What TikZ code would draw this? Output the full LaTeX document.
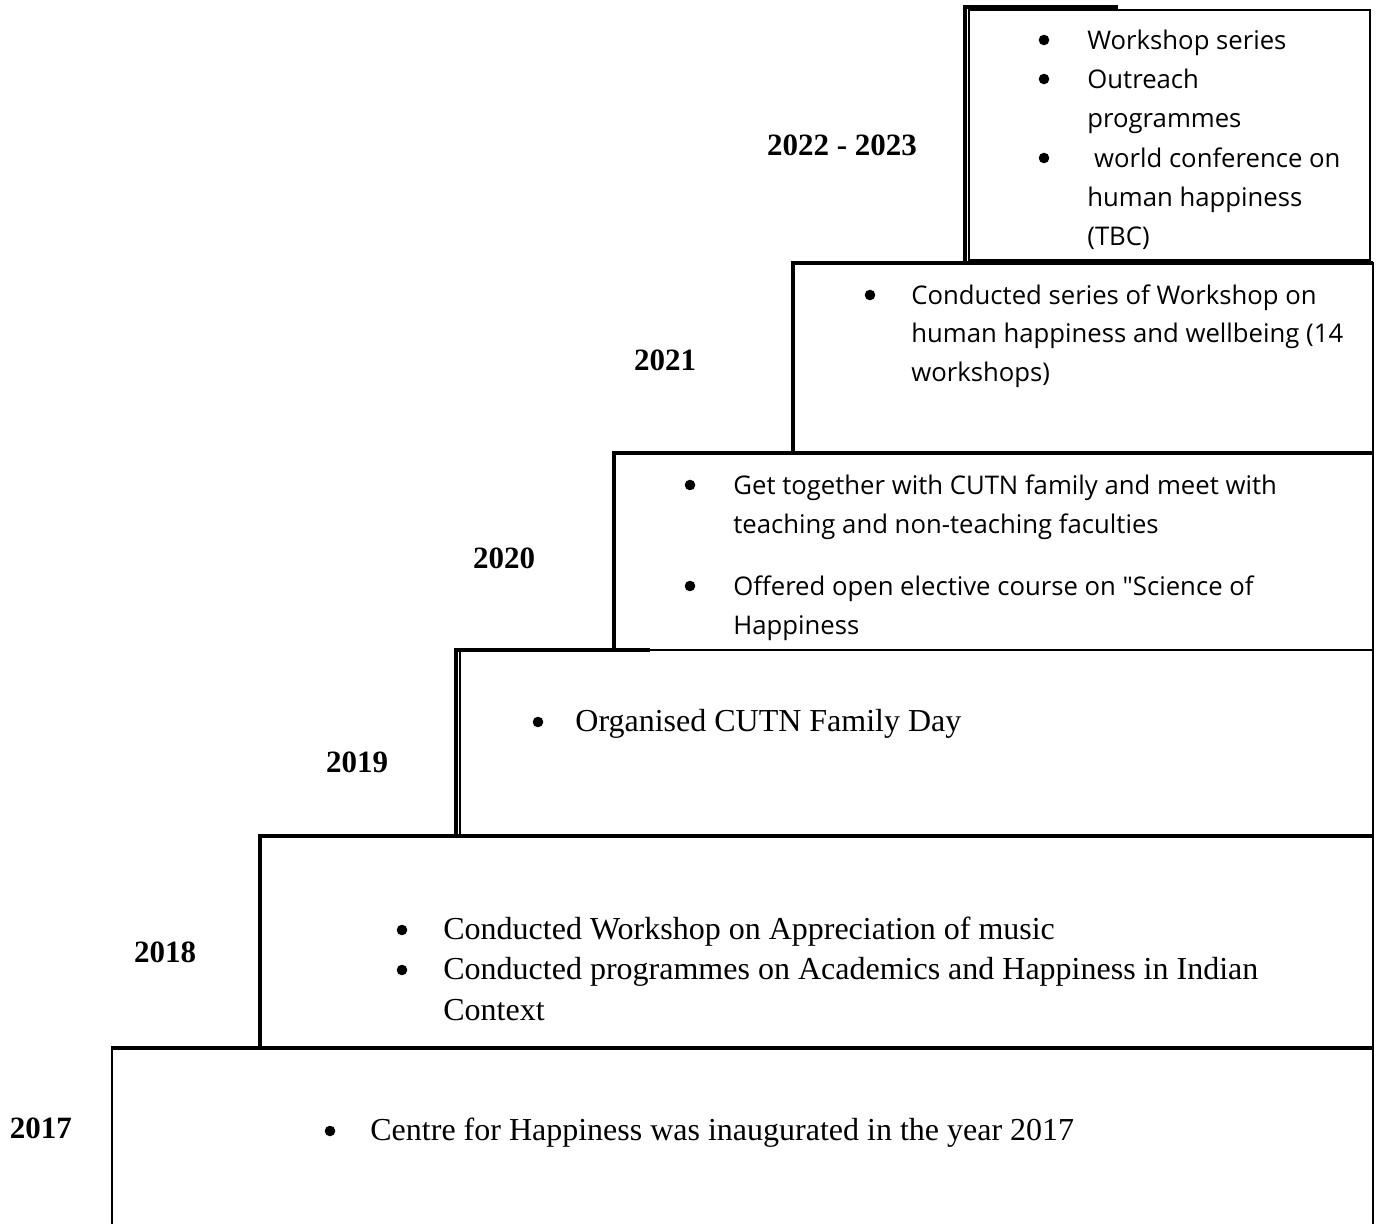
\documentclass[tikz,border=0pt]{standalone}
\usepackage{fontspec}
\setmainfont{Liberation Serif}
\newfontfamily\osans{Open Sans}
\begin{document}
\begin{tikzpicture}[x=0.5pt,y=-0.5pt,
  thinbox/.style={draw=black,line width=0.65pt},
  stair/.style={draw=black,line width=2pt},
  yr/.style={font=\fontsize{15.5}{18}\selectfont\bfseries,anchor=base,inner sep=0},
  sline/.style={font=\osans\fontsize{12.85}{15}\selectfont,anchor=base west,inner sep=0},
  rline/.style={font=\fontsize{16}{19}\selectfont,anchor=base west,inner sep=0},
  bul/.style={circle,fill=black,inner sep=0,minimum size=5.3pt}]
\useasboundingbox (0,0) rectangle (1378,1224);
\fill[white] (0,0) rectangle (1378,1224);
% thin boxes
\draw[thinbox] (112,1224) -- (112,1048) -- (1373,1048) -- (1373,1224);
\draw[thinbox] (260,836) rectangle (1373,1048);
\draw[thinbox] (460,650) rectangle (1373,836);
\draw[thinbox] (614,453) rectangle (1373,650);
\draw[thinbox] (793,263) rectangle (1373,453);
\draw[thinbox] (969,10) rectangle (1370,260);
% thick staircase
\draw[stair] (111,1048) -- (1373,1048);
\draw[stair] (260,1048) -- (260,836) -- (1373,836);
\draw[stair] (456,836) -- (456,650) -- (650,650);
\draw[stair] (614,650) -- (614,453) -- (1373,453);
\draw[stair] (793,453) -- (793,263) -- (1373,263);
\draw[stair] (965,263) -- (965,7) -- (1118,7);
% years
\node[yr] (y22) at (842,156) {2022 - 2023};
\node[yr] (y21) at (665,371) {2021};
\node[yr] (y20) at (504,569) {2020};
\node[yr] (y19) at (357,773) {2019};
\node[yr] (y18) at (165,963) {2018};
\node[yr] (y17) at (41,1138) {2017};
% 2022-2023
\node[bul] (b22a) at (1044,40) {};
\node[sline] (t22a) at (1087,50) {Workshop series};
\node[bul] (b22b) at (1044,79) {};
\node[sline] (t22b) at (1087,89) {Outreach};
\node[sline] (t22c) at (1087,128) {programmes};
\node[bul] (b22d) at (1044,158) {};
\node[sline] (t22d) at (1087,168) {\ world conference on};
\node[sline] (t22e) at (1087,207) {human happiness};
\node[sline] (t22f) at (1087,246) {(TBC)};
% 2021
\node[bul] (b21a) at (870,295) {};
\node[sline] (t21a) at (911,305) {Conducted series of Workshop on};
\node[sline] (t21b) at (911,343) {human happiness and wellbeing (14};
\node[sline] (t21c) at (911,382) {workshops)};
% 2020
\node[bul] (b20a) at (690,485) {};
\node[sline] (t20a) at (733,495) {Get together with CUTN family and meet with};
\node[sline] (t20b) at (733,534) {teaching and non-teaching faculties};
\node[bul] (b20c) at (690,586) {};
\node[sline] (t20c) at (733,596) {Offered open elective course on "Science of};
\node[sline] (t20d) at (733,635) {Happiness};
% 2019
\node[bul] (b19a) at (538,722) {};
\node[rline] (t19a) at (575,732) {Organised CUTN Family Day};
% 2018
\node[bul] (b18a) at (402,930) {};
\node[rline] (t18a) at (443,940) {Conducted Workshop on Appreciation of music};
\node[bul] (b18b) at (402,970) {};
\node[rline] (t18b) at (443,980) {Conducted programmes on Academics and Happiness in Indian};
\node[rline] (t18c) at (443,1021) {Context};
% 2017
\node[bul] (b17a) at (330,1131) {};
\node[rline] (t17a) at (370,1141) {Centre for Happiness was inaugurated in the year 2017};
\end{tikzpicture}
\end{document}
